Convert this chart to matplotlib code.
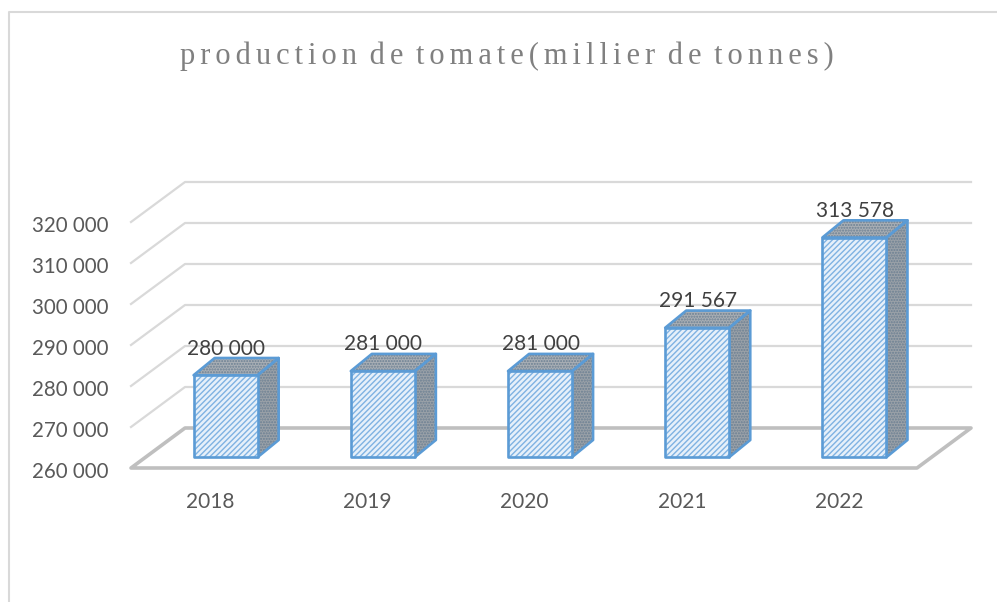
import matplotlib
matplotlib.use("Agg")
import matplotlib.pyplot as plt
from matplotlib.patches import Polygon

years = ["2018", "2019", "2020", "2021", "2022"]
production = [280000, 281000, 281000, 291567, 313578]
y_ticks = [260000, 270000, 280000, 290000, 300000, 310000, 320000]
tick_labels = ["260 000", "270 000", "280 000", "290 000", "300 000", "310 000", "320 000"]
title = "production de tomate(millier de tonnes)"

W, H = 997, 602
fig = plt.figure(figsize=(W / 100, H / 100), dpi=100)
fig.patch.set_facecolor("white")

# Front plane of the 3D box, in pixels
L, R, T, B = 131, 917, 222, 468
ax = fig.add_axes([L / W, 1 - B / H, (R - L) / W, (B - T) / H])
ax.set_xlim(-0.5, 4.5)
ax.set_ylim(260000, 320000)
ax.axis("off")

ux = (R - L) / 5            # px per category
uy = (B - T) / 60000        # px per value
DX, DY = 54 / ux, 40 / uy   # full depth in data units


def poly(points, **kw):
    p = Polygon(points, closed=True, clip_on=False, **kw)
    ax.add_patch(p)
    return p


GRID = "#d9d9d9"
FLOOR = "#bfbfbf"
x0, x1 = -0.5, 4.5
for v in y_ticks[1:]:
    ax.plot([x0, x0 + DX, x1 + DX], [v, v + DY, v + DY], color=GRID, lw=1.6,
            clip_on=False, solid_joinstyle="round")
poly([(x0, 260000), (x1, 260000), (x1 + DX, 260000 + DY), (x0 + DX, 260000 + DY)],
     fill=False, edgecolor=FLOOR, lw=2.6, joinstyle="round")

plt.rcParams["hatch.linewidth"] = 1.0
BLUE = "#5b9bd5"
half = 32 / ux
off_y = 0.27 * DY           # bars stand inside the floor, back from the front edge
sx, sy = 0.39 * DX, 0.43 * DY   # bar depth
base = 260000 + off_y
for i, v in enumerate(production):
    c = i + 16 / ux
    l, r = c - half, c + half
    t = v + off_y
    side = [(r, base), (r + sx, base + sy), (r + sx, t + sy), (r, t)]
    top = [(l, t), (r, t), (r + sx, t + sy), (l + sx, t + sy)]
    front = [(l, base), (r, base), (r, t), (l, t)]
    for shape, face in ((side, "#9aa1a8"), (top, "#a9afb5")):
        poly(shape, facecolor=face, edgecolor="#6b7f92", hatch="......", lw=0, zorder=3)
        poly(shape, fill=False, edgecolor=BLUE, lw=1.9, zorder=4, joinstyle="round")
    poly(front, facecolor="#e6f0fa", edgecolor="#7fb2e2", hatch="//////", lw=0, zorder=5)
    poly(front, fill=False, edgecolor=BLUE, lw=1.9, zorder=6, joinstyle="round")
    ax.annotate(f"{v:,}".replace(",", " "), xy=(c, t), xytext=(0.5, 12), textcoords="offset points",
                ha="center", va="bottom", fontsize=15, family="Lato", color="#404040",
                zorder=7, annotation_clip=False)

for v, lab in zip(y_ticks, tick_labels):
    ax.annotate(lab, xy=(x0, v), xytext=(-23 * 0.72, -4 * 0.72), textcoords="offset points",
                ha="right", va="center", fontsize=14.8, family="Lato", color="#595959",
                annotation_clip=False)
for i, y in enumerate(years):
    ax.annotate(y, xy=(i, 260000), xytext=(0.5, -24 * 0.72), textcoords="offset points",
                ha="center", va="top", fontsize=15, family="Lato", color="#595959",
                annotation_clip=False)

spaced = "\u200a \u200a".join("\u200a\u200a".join(word) for word in title.split(" "))
fig.text(507 / W, 1 - 56 / H, spaced, ha="center", va="center",
         fontsize=22, family="Liberation Serif", color="#808080")

# chart frame
fig.add_artist(plt.Line2D([9 / W, 9 / W, 1], [0, 1 - 12 / H, 1 - 12 / H],
                          color=GRID, lw=1.5, transform=fig.transFigure))

fig.savefig("out.png", dpi=100)
